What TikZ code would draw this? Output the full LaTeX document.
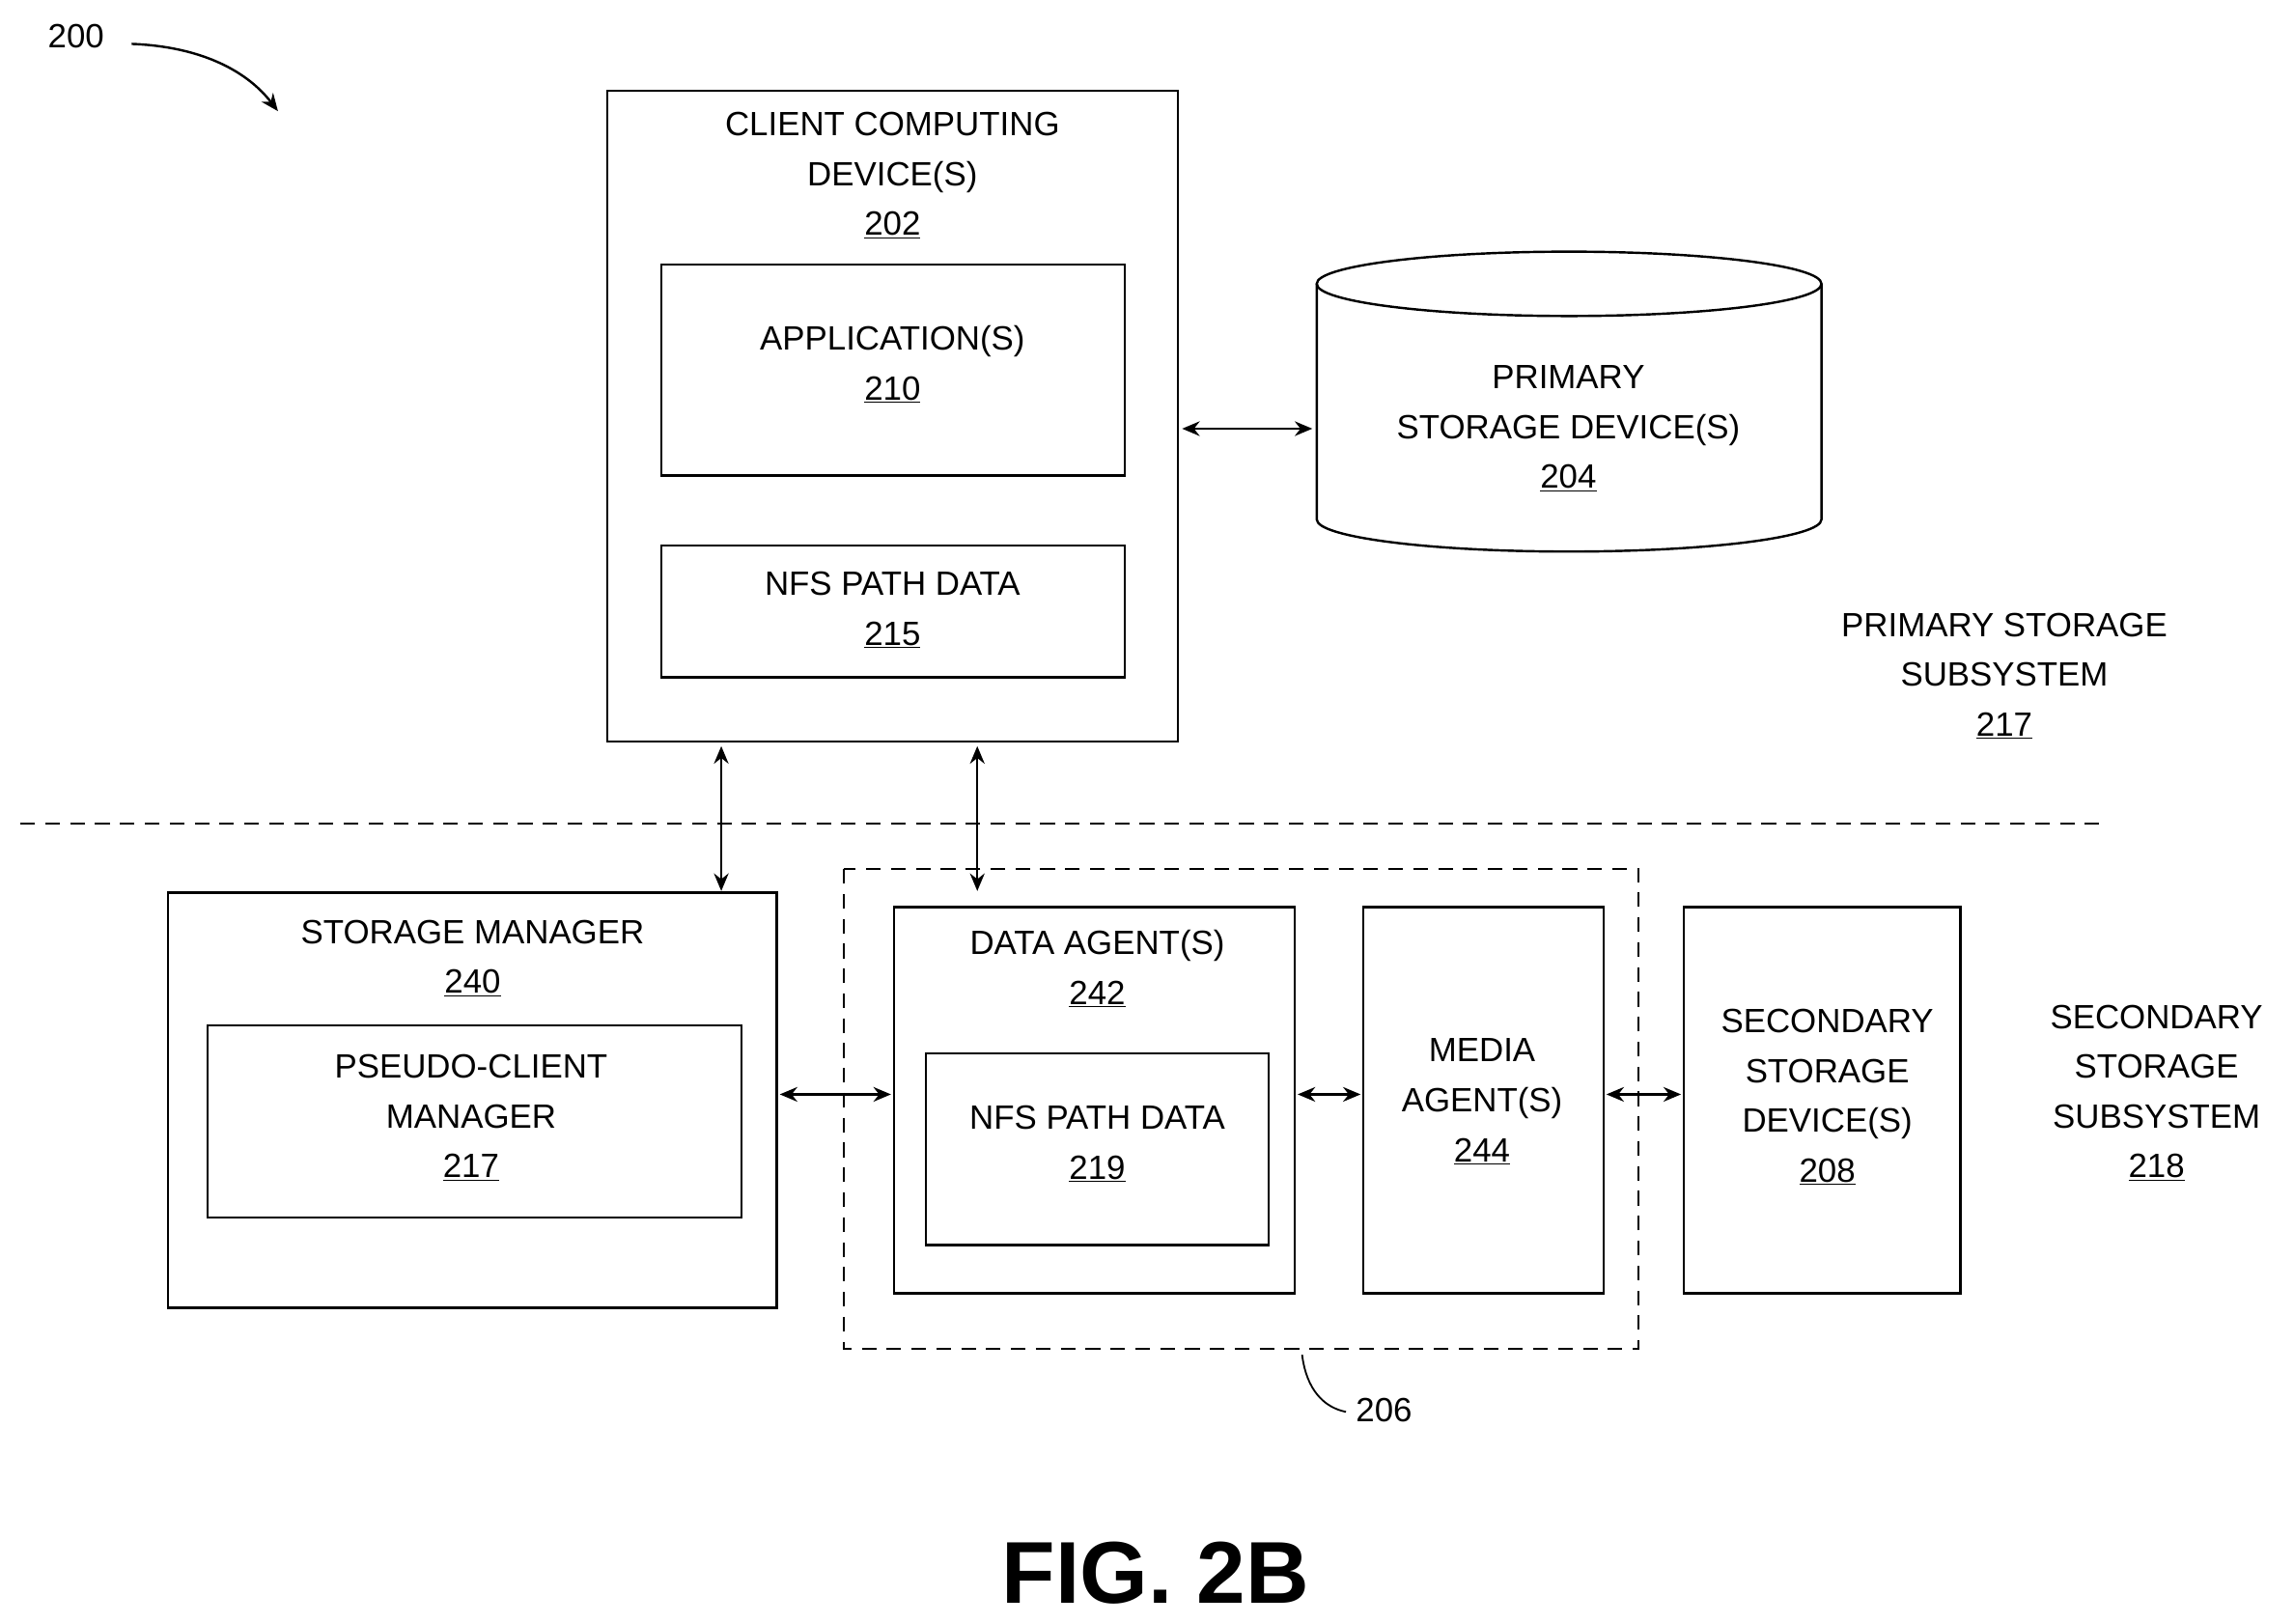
\documentclass[tikz,border=0pt]{standalone}
\usepackage{fontspec}
\setmainfont{Liberation Sans}
\usetikzlibrary{arrows.meta,shapes.geometric}
\begin{document}
\begin{tikzpicture}[x=1pt,y=-1pt,
 bx/.style={draw,line width=1.6pt},
 lb/.style={align=center,font=\fontsize{23}{34}\selectfont},
 ar/.style={line width=1.6pt,{Stealth[length=12pt,width=10pt]}-{Stealth[length=12pt,width=10pt]}}]
\useasboundingbox (0,0) rectangle (1568,1110);
\node[lb] (n200) at (52,25) {200};
\draw[line width=1.6pt,-{Stealth[length=12pt,width=10pt]}] (90,30) .. controls (140,32) and (170,50) .. (190,76);
% client
\draw[bx] (415,62) rectangle (805,507);
\node[lb] (t202) at (610,120) {CLIENT COMPUTING\\DEVICE(S)\\\underline{202}};
\draw[bx] (452,181) rectangle (769,325);
\node[lb] (t210) at (610,249) {APPLICATION(S)\\\underline{210}};
\draw[bx] (452,373) rectangle (769,463);
\node[lb] (t215) at (610,417) {NFS PATH DATA\\\underline{215}};
% cylinder
\draw[bx] (900,194) -- (900,355) arc[start angle=180,end angle=0,x radius=172.5,y radius=22] -- (1245,194);
\draw[bx] (1072.5,194) ellipse[x radius=172.5,y radius=22];
\node[lb] (t204) at (1072,293) {PRIMARY\\STORAGE DEVICE(S)\\\underline{204}};
\draw[ar] (808,293) -- (897,293);
\node[lb] (t217a) at (1370,462) {PRIMARY STORAGE\\SUBSYSTEM\\\underline{217}};
\draw[line width=1.4pt,dash pattern=on 10pt off 7pt] (14,563) -- (1435,563);
% storage manager
\draw[bx] (115,610) rectangle (531,894);
\node[lb] (t240) at (323,655) {STORAGE MANAGER\\\underline{240}};
\draw[bx] (142,701) rectangle (507,832);
\node[lb] (t217) at (322,764) {PSEUDO-CLIENT\\MANAGER\\\underline{217}};
\draw[line width=1.4pt,dash pattern=on 10pt off 7pt] (577,594) rectangle (1120,922);
\draw[bx] (611,620) rectangle (885,884);
\node[lb] (t242) at (750,662) {DATA AGENT(S)\\\underline{242}};
\draw[bx] (633,720) rectangle (867,851);
\node[lb] (t219) at (750,782) {NFS PATH DATA\\\underline{219}};
\draw[bx] (932,620) rectangle (1096,884);
\node[lb] (t244) at (1013,753) {MEDIA\\AGENT(S)\\\underline{244}};
\draw[bx] (1151,620) rectangle (1340,884);
\node[lb] (t208) at (1249,750) {SECONDARY\\STORAGE\\DEVICE(S)\\\underline{208}};
\node[lb] (t218) at (1474,747) {SECONDARY\\STORAGE\\SUBSYSTEM\\\underline{218}};
\draw[ar] (493,510) -- (493,609);
\draw[ar] (668,510) -- (668,609);
\draw[ar] (533,748) -- (609,748);
\draw[ar] (887,748) -- (930,748);
\draw[ar] (1098,748) -- (1149,748);
\node[lb] (t206) at (946,964) {206};
\draw[line width=1.2pt] (890,926) .. controls (893,950) and (905,962) .. (920,965);
\node[font=\bfseries\fontsize{60}{60}\selectfont] (fig) at (790,1075) {FIG. 2B};
\end{tikzpicture}
\end{document}
